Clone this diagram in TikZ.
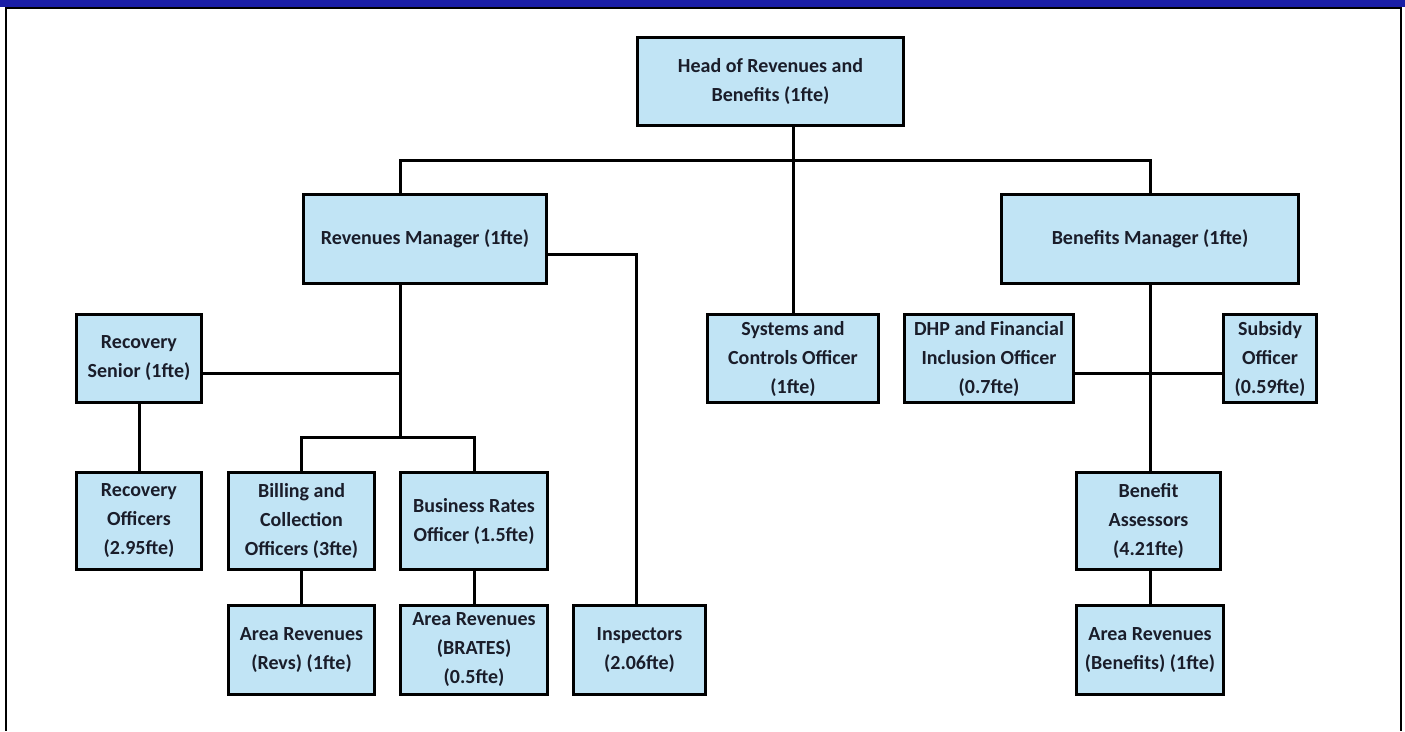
\documentclass[tikz,border=0pt]{standalone}
\usepackage{fontspec}
\setmainfont{Carlito}
\definecolor{boxblue}{HTML}{C1E4F5}
\definecolor{barblue}{HTML}{1A1EA6}
\definecolor{inkdark}{HTML}{1A1D2A}
\usetikzlibrary{positioning,calc}

\begin{document}
\begin{tikzpicture}[
  x=1pt, y=-1pt,
  rolebox/.style={rectangle, draw=black, fill=boxblue, line width=3.5pt,
    text=inkdark, align=center, inner sep=2pt,
    font=\fontsize{20}{29}\selectfont\bfseries},
  link/.style={draw=black, line width=3pt}
]
  \useasboundingbox (0,0) rectangle (1405,731);
  % frame
  \fill[barblue] (0,0) rectangle (1405,7);
  \draw[line width=2pt] (5,7.5) -- (1402,7.5);
  \draw[line width=2pt] (6,7) -- (6,731);
  \draw[line width=2pt] (1401,7) -- (1401,731);

  % top level
  \node[rolebox, minimum width=266pt, minimum height=88pt] (head) at (770.5,81.5) {Head of Revenues and\\Benefits (1fte)};
  \node[rolebox, minimum width=243pt, minimum height=89pt] (revmgr) at (425,239) {Revenues Manager (1fte)};
  \node[rolebox, minimum width=297pt, minimum height=89pt] (benmgr) at (1150,239) {Benefits Manager (1fte)};

  % second row
  \node[rolebox, minimum width=125pt, minimum height=88pt] (recsen) at (139,358.5) {Recovery\\Senior (1fte)};
  \node[rolebox, minimum width=171pt, minimum height=88pt] (sysoff) at (793,358.5) {Systems and\\Controls Officer\\(1fte)};
  \node[rolebox, minimum width=169pt, minimum height=88pt] (dhp) at (989,358.5) {DHP and Financial\\Inclusion Officer\\(0.7fte)};
  \node[rolebox, minimum width=93pt, minimum height=88pt] (subsidy) at (1270,358.5) {Subsidy\\Officer\\(0.59fte)};

  % third row
  \node[rolebox, minimum width=125pt, minimum height=97pt] (recoff) at (139,521) {Recovery\\Officers\\(2.95fte)};
  \node[rolebox, minimum width=146pt, minimum height=97pt] (billing) at (301.5,521) {Billing and\\Collection\\Officers (3fte)};
  \node[rolebox, minimum width=147pt, minimum height=97pt] (busrates) at (474,521) {Business Rates\\Officer (1.5fte)};
  \node[rolebox, minimum width=144pt, minimum height=97pt] (benass) at (1148.5,521) {Benefit\\Assessors\\(4.21fte)};

  % bottom row
  \node[rolebox, minimum width=146pt, minimum height=89pt] (arearevs) at (301.5,650) {Area Revenues\\(Revs) (1fte)};
  \node[rolebox, minimum width=147pt, minimum height=89pt] (areabrates) at (474,650) {Area Revenues\\(BRATES)\\(0.5fte)};
  \node[rolebox, minimum width=132pt, minimum height=89pt] (inspectors) at (639.5,650) {Inspectors\\(2.06fte)};
  \node[rolebox, minimum width=147pt, minimum height=89pt] (areaben) at (1150,650) {Area Revenues\\(Benefits) (1fte)};

  % joints
  \coordinate (topbus) at (793,160);
  \coordinate (revjoint) at (400,437);
  \coordinate (sidejoint) at (400,373);
  \coordinate (inspjoint) at (636,254);

  % connectors
  \draw[link] (revmgr.north -| revjoint) |- (topbus) -| (benmgr.north);
  \draw[link] (sysoff.north |- head.south) -- (sysoff.north);
  \draw[link] (revjoint |- revmgr.south) -- (revjoint);
  \draw[link] (recsen.east |- sidejoint) -- (sidejoint);
  \draw[link] (recsen.south) -- (recoff.north);
  \draw[link] (billing.north) |- (revjoint) -| (busrates.north);
  \draw[link] (billing.south) -- (arearevs.north);
  \draw[link] (busrates.south) -- (areabrates.north);
  \draw[link] (revmgr.east |- inspjoint) -| (inspjoint |- inspectors.north);
  \draw[link] (dhp.east |- sidejoint) -- (subsidy.west |- sidejoint);
  \draw[link] (benmgr.south) -- (benmgr.south |- benass.north);
  \draw[link] (benass.south -| benmgr.south) -- (areaben.north);
\end{tikzpicture}
\end{document}
